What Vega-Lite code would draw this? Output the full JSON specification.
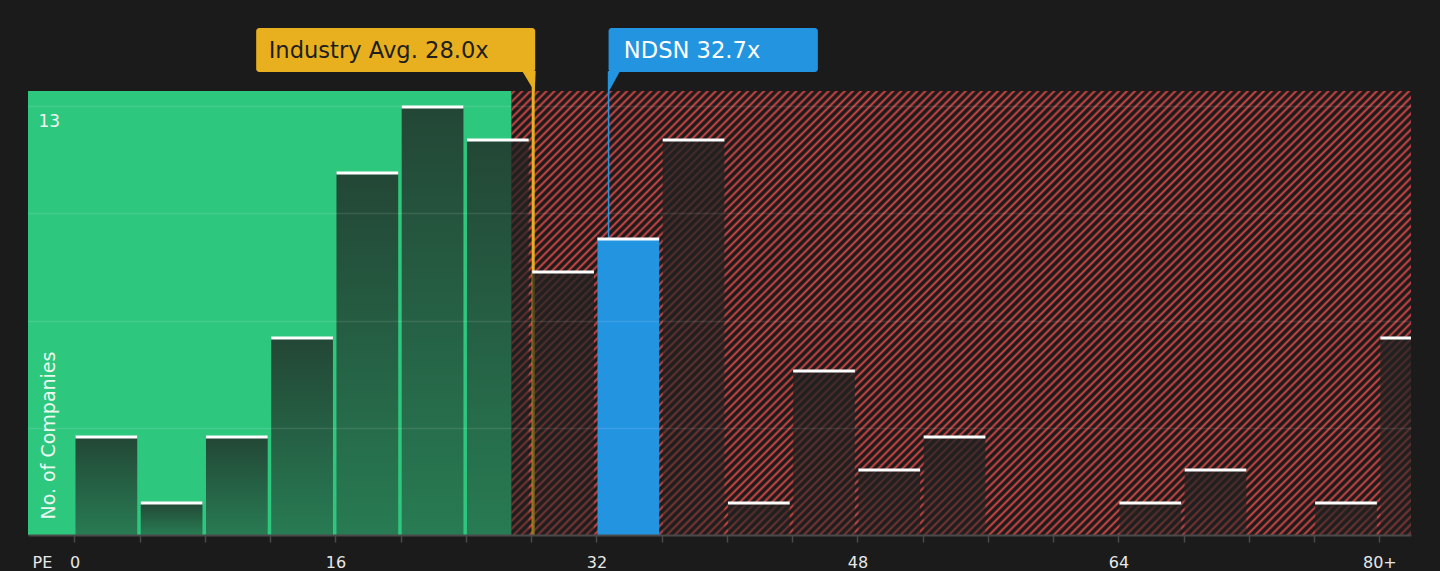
{
  "$schema": "https://vega.github.io/schema/vega-lite/v6.json",
  "description": "PE ratio distribution of peers, industry average and NDSN",
  "autosize": {"type": "none"},
  "padding": {"left": 28, "top": 28, "right": 29, "bottom": 36},
  "width": 1383,
  "height": 507,
  "background": "#1b1b1b",
  "config": {"view": {"stroke": null}, "font": "DejaVu Sans"},
  "datasets": {
    "bins": [
      {"lo": 0, "hi": 4, "n": 3},
      {"lo": 4, "hi": 8, "n": 1},
      {"lo": 8, "hi": 12, "n": 3},
      {"lo": 12, "hi": 16, "n": 6},
      {"lo": 16, "hi": 20, "n": 11},
      {"lo": 20, "hi": 24, "n": 13},
      {"lo": 24, "hi": 28, "n": 12},
      {"lo": 28, "hi": 32, "n": 8},
      {"lo": 32, "hi": 36, "n": 9},
      {"lo": 36, "hi": 40, "n": 12},
      {"lo": 40, "hi": 44, "n": 1},
      {"lo": 44, "hi": 48, "n": 5},
      {"lo": 48, "hi": 52, "n": 2},
      {"lo": 52, "hi": 56, "n": 3},
      {"lo": 56, "hi": 60, "n": 0},
      {"lo": 60, "hi": 64, "n": 0},
      {"lo": 64, "hi": 68, "n": 1},
      {"lo": 68, "hi": 72, "n": 2},
      {"lo": 72, "hi": 76, "n": 0},
      {"lo": 76, "hi": 80, "n": 1},
      {"lo": 80, "hi": 84, "n": 6}
    ],
    "zones": [
      {"zone": "fair", "start": -2.85, "end": 26.8},
      {"zone": "over", "start": 26.8, "end": 81.94}
    ],
    "refs": [
      {"kind": "industry", "label": "Industry Avg. 28.0x", "pe": 28.0},
      {"kind": "company", "label": "NDSN 32.7x", "pe": 32.7}
    ]
  },
  "layer": [
    {
      "data": {"name": "zones"},
      "mark": {"type": "rect", "opacity": 1},
      "encoding": {
        "x": {
          "field": "start",
          "type": "quantitative",
          "scale": {"domain": [-2.85, 81.94], "nice": false, "zero": false},
          "axis": {
            "title": "PE",
            "values": [0, 4, 8, 12, 16, 20, 24, 28, 32, 36, 40, 44, 48, 52, 56, 60, 64, 68, 72, 76, 80],
            "labelExpr": "datum.value % 16 === 0 ? (datum.value === 80 ? '80+' : datum.label) : ''",
            "grid": false,
            "domainColor": "#4a4a4a",
            "domainWidth": 2,
            "tickColor": "#4a4a4a",
            "tickWidth": 1.5,
            "tickSize": 7,
            "labelColor": "#e8e8e8",
            "labelFontSize": 16,
            "labelPadding": 25,
            "labelBaseline": "alphabetic",
            "labelFlush": false,
            "labelOverlap": false,
            "titleColor": "#e8e8e8",
            "titleFontSize": 16,
            "titleFontWeight": "normal",
            "titleAnchor": "start",
            "titleAlign": "left",
            "titleBaseline": "alphabetic",
            "titleX": 4,
            "titleY": 32,
            "zindex": 1
          }
        },
        "x2": {"field": "end"},
        "y": {
          "datum": 0,
          "type": "quantitative",
          "scale": {"domain": [0, 15.364], "nice": false, "zero": false},
          "axis": {
            "title": "No. of Companies",
            "values": [3.25, 6.5, 9.75, 13],
            "labelExpr": "datum.value === 13 ? '13' : ''",
            "domain": false,
            "ticks": false,
            "tickSize": 0,
            "grid": true,
            "gridColor": "#ffffff",
            "gridOpacity": 0.1,
            "gridWidth": 1.5,
            "labelColor": "#f2f2f2",
            "labelFontSize": 17,
            "labelAlign": "left",
            "labelBaseline": "alphabetic",
            "labelPadding": -10,
            "labelOffset": 20,
            "labelFlush": false,
            "labelOverlap": false,
            "labelBound": false,
            "titleColor": "#eaf8f0",
            "titleFontSize": 19,
            "titleFontWeight": "normal",
            "titleAngle": 270,
            "titleAlign": "left",
            "titleBaseline": "middle",
            "titleX": 20,
            "titleY": 491,
            "zindex": 1
          }
        },
        "y2": {"datum": 13.4545},
        "fill": {
          "condition": {"test": "datum.zone === 'fair'", "value": "#2ec77e"},
          "value": {
            "gradient": "linear",
            "x1": 0, "y1": 0, "x2": 1.201, "y2": 0.5931,
            "stops": [
{"offset":0.000,"color":"#1d1a1a"},{"offset":0.002,"color":"#d64848"},{"offset":0.004,"color":"#1d1a1a"},
{"offset":0.006,"color":"#1d1a1a"},{"offset":0.008,"color":"#d64848"},{"offset":0.010,"color":"#1d1a1a"},
{"offset":0.012,"color":"#1d1a1a"},{"offset":0.014,"color":"#d64848"},{"offset":0.016,"color":"#1d1a1a"},
{"offset":0.018,"color":"#1d1a1a"},{"offset":0.020,"color":"#d64848"},{"offset":0.022,"color":"#1d1a1a"},
{"offset":0.024,"color":"#1d1a1a"},{"offset":0.026,"color":"#d64848"},{"offset":0.028,"color":"#1d1a1a"},
{"offset":0.030,"color":"#1d1a1a"},{"offset":0.032,"color":"#d64848"},{"offset":0.034,"color":"#1d1a1a"},
{"offset":0.036,"color":"#1d1a1a"},{"offset":0.038,"color":"#d64848"},{"offset":0.040,"color":"#1d1a1a"},
{"offset":0.042,"color":"#1d1a1a"},{"offset":0.044,"color":"#d64848"},{"offset":0.046,"color":"#1d1a1a"},
{"offset":0.048,"color":"#1d1a1a"},{"offset":0.050,"color":"#d64848"},{"offset":0.052,"color":"#1d1a1a"},
{"offset":0.054,"color":"#1d1a1a"},{"offset":0.056,"color":"#d64848"},{"offset":0.058,"color":"#1d1a1a"},
{"offset":0.060,"color":"#1d1a1a"},{"offset":0.062,"color":"#d64848"},{"offset":0.064,"color":"#1d1a1a"},
{"offset":0.066,"color":"#1d1a1a"},{"offset":0.068,"color":"#d64848"},{"offset":0.070,"color":"#1d1a1a"},
{"offset":0.072,"color":"#1d1a1a"},{"offset":0.074,"color":"#d64848"},{"offset":0.076,"color":"#1d1a1a"},
{"offset":0.078,"color":"#1d1a1a"},{"offset":0.080,"color":"#d64848"},{"offset":0.082,"color":"#1d1a1a"},
{"offset":0.084,"color":"#1d1a1a"},{"offset":0.086,"color":"#d64848"},{"offset":0.088,"color":"#1d1a1a"},
{"offset":0.090,"color":"#1d1a1a"},{"offset":0.092,"color":"#d64848"},{"offset":0.094,"color":"#1d1a1a"},
{"offset":0.096,"color":"#1d1a1a"},{"offset":0.098,"color":"#d64848"},{"offset":0.100,"color":"#1d1a1a"},
{"offset":0.102,"color":"#1d1a1a"},{"offset":0.104,"color":"#d64848"},{"offset":0.106,"color":"#1d1a1a"},
{"offset":0.108,"color":"#1d1a1a"},{"offset":0.110,"color":"#d64848"},{"offset":0.112,"color":"#1d1a1a"},
{"offset":0.114,"color":"#1d1a1a"},{"offset":0.116,"color":"#d64848"},{"offset":0.118,"color":"#1d1a1a"},
{"offset":0.120,"color":"#1d1a1a"},{"offset":0.122,"color":"#d64848"},{"offset":0.124,"color":"#1d1a1a"},
{"offset":0.126,"color":"#1d1a1a"},{"offset":0.128,"color":"#d64848"},{"offset":0.130,"color":"#1d1a1a"},
{"offset":0.132,"color":"#1d1a1a"},{"offset":0.134,"color":"#d64848"},{"offset":0.136,"color":"#1d1a1a"},
{"offset":0.138,"color":"#1d1a1a"},{"offset":0.140,"color":"#d64848"},{"offset":0.142,"color":"#1d1a1a"},
{"offset":0.144,"color":"#1d1a1a"},{"offset":0.146,"color":"#d64848"},{"offset":0.148,"color":"#1d1a1a"},
{"offset":0.150,"color":"#1d1a1a"},{"offset":0.152,"color":"#d64848"},{"offset":0.154,"color":"#1d1a1a"},
{"offset":0.156,"color":"#1d1a1a"},{"offset":0.158,"color":"#d64848"},{"offset":0.160,"color":"#1d1a1a"},
{"offset":0.162,"color":"#1d1a1a"},{"offset":0.164,"color":"#d64848"},{"offset":0.166,"color":"#1d1a1a"},
{"offset":0.168,"color":"#1d1a1a"},{"offset":0.170,"color":"#d64848"},{"offset":0.172,"color":"#1d1a1a"},
{"offset":0.174,"color":"#1d1a1a"},{"offset":0.176,"color":"#d64848"},{"offset":0.178,"color":"#1d1a1a"},
{"offset":0.180,"color":"#1d1a1a"},{"offset":0.182,"color":"#d64848"},{"offset":0.184,"color":"#1d1a1a"},
{"offset":0.186,"color":"#1d1a1a"},{"offset":0.188,"color":"#d64848"},{"offset":0.190,"color":"#1d1a1a"},
{"offset":0.192,"color":"#1d1a1a"},{"offset":0.194,"color":"#d64848"},{"offset":0.196,"color":"#1d1a1a"},
{"offset":0.198,"color":"#1d1a1a"},{"offset":0.200,"color":"#d64848"},{"offset":0.202,"color":"#1d1a1a"},
{"offset":0.204,"color":"#1d1a1a"},{"offset":0.206,"color":"#d64848"},{"offset":0.208,"color":"#1d1a1a"},
{"offset":0.210,"color":"#1d1a1a"},{"offset":0.212,"color":"#d64848"},{"offset":0.214,"color":"#1d1a1a"},
{"offset":0.216,"color":"#1d1a1a"},{"offset":0.218,"color":"#d64848"},{"offset":0.220,"color":"#1d1a1a"},
{"offset":0.222,"color":"#1d1a1a"},{"offset":0.224,"color":"#d64848"},{"offset":0.226,"color":"#1d1a1a"},
{"offset":0.228,"color":"#1d1a1a"},{"offset":0.230,"color":"#d64848"},{"offset":0.232,"color":"#1d1a1a"},
{"offset":0.234,"color":"#1d1a1a"},{"offset":0.236,"color":"#d64848"},{"offset":0.238,"color":"#1d1a1a"},
{"offset":0.240,"color":"#1d1a1a"},{"offset":0.242,"color":"#d64848"},{"offset":0.244,"color":"#1d1a1a"},
{"offset":0.246,"color":"#1d1a1a"},{"offset":0.248,"color":"#d64848"},{"offset":0.250,"color":"#1d1a1a"},
{"offset":0.252,"color":"#1d1a1a"},{"offset":0.254,"color":"#d64848"},{"offset":0.256,"color":"#1d1a1a"},
{"offset":0.258,"color":"#1d1a1a"},{"offset":0.260,"color":"#d64848"},{"offset":0.262,"color":"#1d1a1a"},
{"offset":0.264,"color":"#1d1a1a"},{"offset":0.266,"color":"#d64848"},{"offset":0.268,"color":"#1d1a1a"},
{"offset":0.270,"color":"#1d1a1a"},{"offset":0.272,"color":"#d64848"},{"offset":0.274,"color":"#1d1a1a"},
{"offset":0.276,"color":"#1d1a1a"},{"offset":0.278,"color":"#d64848"},{"offset":0.280,"color":"#1d1a1a"},
{"offset":0.282,"color":"#1d1a1a"},{"offset":0.284,"color":"#d64848"},{"offset":0.286,"color":"#1d1a1a"},
{"offset":0.288,"color":"#1d1a1a"},{"offset":0.290,"color":"#d64848"},{"offset":0.292,"color":"#1d1a1a"},
{"offset":0.294,"color":"#1d1a1a"},{"offset":0.296,"color":"#d64848"},{"offset":0.298,"color":"#1d1a1a"},
{"offset":0.300,"color":"#1d1a1a"},{"offset":0.302,"color":"#d64848"},{"offset":0.304,"color":"#1d1a1a"},
{"offset":0.306,"color":"#1d1a1a"},{"offset":0.308,"color":"#d64848"},{"offset":0.310,"color":"#1d1a1a"},
{"offset":0.312,"color":"#1d1a1a"},{"offset":0.314,"color":"#d64848"},{"offset":0.316,"color":"#1d1a1a"},
{"offset":0.318,"color":"#1d1a1a"},{"offset":0.320,"color":"#d64848"},{"offset":0.322,"color":"#1d1a1a"},
{"offset":0.324,"color":"#1d1a1a"},{"offset":0.326,"color":"#d64848"},{"offset":0.328,"color":"#1d1a1a"},
{"offset":0.330,"color":"#1d1a1a"},{"offset":0.332,"color":"#d64848"},{"offset":0.334,"color":"#1d1a1a"},
{"offset":0.336,"color":"#1d1a1a"},{"offset":0.338,"color":"#d64848"},{"offset":0.340,"color":"#1d1a1a"},
{"offset":0.342,"color":"#1d1a1a"},{"offset":0.344,"color":"#d64848"},{"offset":0.346,"color":"#1d1a1a"},
{"offset":0.348,"color":"#1d1a1a"},{"offset":0.350,"color":"#d64848"},{"offset":0.352,"color":"#1d1a1a"},
{"offset":0.354,"color":"#1d1a1a"},{"offset":0.356,"color":"#d64848"},{"offset":0.358,"color":"#1d1a1a"},
{"offset":0.360,"color":"#1d1a1a"},{"offset":0.362,"color":"#d64848"},{"offset":0.364,"color":"#1d1a1a"},
{"offset":0.366,"color":"#1d1a1a"},{"offset":0.368,"color":"#d64848"},{"offset":0.370,"color":"#1d1a1a"},
{"offset":0.372,"color":"#1d1a1a"},{"offset":0.374,"color":"#d64848"},{"offset":0.376,"color":"#1d1a1a"},
{"offset":0.378,"color":"#1d1a1a"},{"offset":0.380,"color":"#d64848"},{"offset":0.382,"color":"#1d1a1a"},
{"offset":0.384,"color":"#1d1a1a"},{"offset":0.386,"color":"#d64848"},{"offset":0.388,"color":"#1d1a1a"},
{"offset":0.390,"color":"#1d1a1a"},{"offset":0.392,"color":"#d64848"},{"offset":0.394,"color":"#1d1a1a"},
{"offset":0.396,"color":"#1d1a1a"},{"offset":0.398,"color":"#d64848"},{"offset":0.400,"color":"#1d1a1a"},
{"offset":0.402,"color":"#1d1a1a"},{"offset":0.404,"color":"#d64848"},{"offset":0.406,"color":"#1d1a1a"},
{"offset":0.408,"color":"#1d1a1a"},{"offset":0.410,"color":"#d64848"},{"offset":0.412,"color":"#1d1a1a"},
{"offset":0.414,"color":"#1d1a1a"},{"offset":0.416,"color":"#d64848"},{"offset":0.418,"color":"#1d1a1a"},
{"offset":0.420,"color":"#1d1a1a"},{"offset":0.422,"color":"#d64848"},{"offset":0.424,"color":"#1d1a1a"},
{"offset":0.426,"color":"#1d1a1a"},{"offset":0.428,"color":"#d64848"},{"offset":0.430,"color":"#1d1a1a"},
{"offset":0.432,"color":"#1d1a1a"},{"offset":0.434,"color":"#d64848"},{"offset":0.436,"color":"#1d1a1a"},
{"offset":0.438,"color":"#1d1a1a"},{"offset":0.440,"color":"#d64848"},{"offset":0.442,"color":"#1d1a1a"},
{"offset":0.444,"color":"#1d1a1a"},{"offset":0.446,"color":"#d64848"},{"offset":0.448,"color":"#1d1a1a"},
{"offset":0.450,"color":"#1d1a1a"},{"offset":0.452,"color":"#d64848"},{"offset":0.454,"color":"#1d1a1a"},
{"offset":0.456,"color":"#1d1a1a"},{"offset":0.458,"color":"#d64848"},{"offset":0.460,"color":"#1d1a1a"},
{"offset":0.462,"color":"#1d1a1a"},{"offset":0.464,"color":"#d64848"},{"offset":0.466,"color":"#1d1a1a"},
{"offset":0.468,"color":"#1d1a1a"},{"offset":0.470,"color":"#d64848"},{"offset":0.472,"color":"#1d1a1a"},
{"offset":0.474,"color":"#1d1a1a"},{"offset":0.476,"color":"#d64848"},{"offset":0.478,"color":"#1d1a1a"},
{"offset":0.480,"color":"#1d1a1a"},{"offset":0.482,"color":"#d64848"},{"offset":0.484,"color":"#1d1a1a"},
{"offset":0.486,"color":"#1d1a1a"},{"offset":0.488,"color":"#d64848"},{"offset":0.490,"color":"#1d1a1a"},
{"offset":0.492,"color":"#1d1a1a"},{"offset":0.494,"color":"#d64848"},{"offset":0.496,"color":"#1d1a1a"},
{"offset":0.498,"color":"#1d1a1a"},{"offset":0.500,"color":"#d64848"},{"offset":0.502,"color":"#1d1a1a"},
{"offset":0.504,"color":"#1d1a1a"},{"offset":0.506,"color":"#d64848"},{"offset":0.508,"color":"#1d1a1a"},
{"offset":0.510,"color":"#1d1a1a"},{"offset":0.512,"color":"#d64848"},{"offset":0.514,"color":"#1d1a1a"},
{"offset":0.516,"color":"#1d1a1a"},{"offset":0.518,"color":"#d64848"},{"offset":0.520,"color":"#1d1a1a"},
{"offset":0.522,"color":"#1d1a1a"},{"offset":0.524,"color":"#d64848"},{"offset":0.526,"color":"#1d1a1a"},
{"offset":0.528,"color":"#1d1a1a"},{"offset":0.530,"color":"#d64848"},{"offset":0.532,"color":"#1d1a1a"},
{"offset":0.534,"color":"#1d1a1a"},{"offset":0.536,"color":"#d64848"},{"offset":0.538,"color":"#1d1a1a"},
{"offset":0.540,"color":"#1d1a1a"},{"offset":0.542,"color":"#d64848"},{"offset":0.544,"color":"#1d1a1a"},
{"offset":0.546,"color":"#1d1a1a"},{"offset":0.548,"color":"#d64848"},{"offset":0.550,"color":"#1d1a1a"},
{"offset":0.552,"color":"#1d1a1a"},{"offset":0.554,"color":"#d64848"},{"offset":0.556,"color":"#1d1a1a"},
{"offset":0.558,"color":"#1d1a1a"},{"offset":0.560,"color":"#d64848"},{"offset":0.562,"color":"#1d1a1a"},
{"offset":0.564,"color":"#1d1a1a"},{"offset":0.566,"color":"#d64848"},{"offset":0.568,"color":"#1d1a1a"},
{"offset":0.570,"color":"#1d1a1a"},{"offset":0.572,"color":"#d64848"},{"offset":0.574,"color":"#1d1a1a"},
{"offset":0.576,"color":"#1d1a1a"},{"offset":0.578,"color":"#d64848"},{"offset":0.580,"color":"#1d1a1a"},
{"offset":0.582,"color":"#1d1a1a"},{"offset":0.584,"color":"#d64848"},{"offset":0.586,"color":"#1d1a1a"},
{"offset":0.588,"color":"#1d1a1a"},{"offset":0.590,"color":"#d64848"},{"offset":0.592,"color":"#1d1a1a"},
{"offset":0.594,"color":"#1d1a1a"},{"offset":0.596,"color":"#d64848"},{"offset":0.598,"color":"#1d1a1a"},
{"offset":0.600,"color":"#1d1a1a"},{"offset":0.602,"color":"#d64848"},{"offset":0.604,"color":"#1d1a1a"},
{"offset":0.606,"color":"#1d1a1a"},{"offset":0.608,"color":"#d64848"},{"offset":0.610,"color":"#1d1a1a"},
{"offset":0.612,"color":"#1d1a1a"},{"offset":0.614,"color":"#d64848"},{"offset":0.616,"color":"#1d1a1a"},
{"offset":0.618,"color":"#1d1a1a"},{"offset":0.620,"color":"#d64848"},{"offset":0.622,"color":"#1d1a1a"},
{"offset":0.624,"color":"#1d1a1a"},{"offset":0.626,"color":"#d64848"},{"offset":0.628,"color":"#1d1a1a"},
{"offset":0.630,"color":"#1d1a1a"},{"offset":0.632,"color":"#d64848"},{"offset":0.634,"color":"#1d1a1a"},
{"offset":0.636,"color":"#1d1a1a"},{"offset":0.638,"color":"#d64848"},{"offset":0.640,"color":"#1d1a1a"},
{"offset":0.642,"color":"#1d1a1a"},{"offset":0.644,"color":"#d64848"},{"offset":0.646,"color":"#1d1a1a"},
{"offset":0.648,"color":"#1d1a1a"},{"offset":0.650,"color":"#d64848"},{"offset":0.652,"color":"#1d1a1a"},
{"offset":0.654,"color":"#1d1a1a"},{"offset":0.656,"color":"#d64848"},{"offset":0.658,"color":"#1d1a1a"},
{"offset":0.660,"color":"#1d1a1a"},{"offset":0.662,"color":"#d64848"},{"offset":0.664,"color":"#1d1a1a"},
{"offset":0.666,"color":"#1d1a1a"},{"offset":0.668,"color":"#d64848"},{"offset":0.670,"color":"#1d1a1a"},
{"offset":0.672,"color":"#1d1a1a"},{"offset":0.674,"color":"#d64848"},{"offset":0.676,"color":"#1d1a1a"},
{"offset":0.678,"color":"#1d1a1a"},{"offset":0.680,"color":"#d64848"},{"offset":0.682,"color":"#1d1a1a"},
{"offset":0.684,"color":"#1d1a1a"},{"offset":0.686,"color":"#d64848"},{"offset":0.688,"color":"#1d1a1a"},
{"offset":0.690,"color":"#1d1a1a"},{"offset":0.692,"color":"#d64848"},{"offset":0.694,"color":"#1d1a1a"},
{"offset":0.696,"color":"#1d1a1a"},{"offset":0.698,"color":"#d64848"},{"offset":0.700,"color":"#1d1a1a"},
{"offset":0.702,"color":"#1d1a1a"},{"offset":0.704,"color":"#d64848"},{"offset":0.706,"color":"#1d1a1a"},
{"offset":0.708,"color":"#1d1a1a"},{"offset":0.710,"color":"#d64848"},{"offset":0.712,"color":"#1d1a1a"},
{"offset":0.714,"color":"#1d1a1a"},{"offset":0.716,"color":"#d64848"},{"offset":0.718,"color":"#1d1a1a"},
{"offset":0.720,"color":"#1d1a1a"},{"offset":0.722,"color":"#d64848"},{"offset":0.724,"color":"#1d1a1a"},
{"offset":0.726,"color":"#1d1a1a"},{"offset":0.728,"color":"#d64848"},{"offset":0.730,"color":"#1d1a1a"},
{"offset":0.732,"color":"#1d1a1a"},{"offset":0.734,"color":"#d64848"},{"offset":0.736,"color":"#1d1a1a"},
{"offset":0.738,"color":"#1d1a1a"},{"offset":0.740,"color":"#d64848"},{"offset":0.742,"color":"#1d1a1a"},
{"offset":0.744,"color":"#1d1a1a"},{"offset":0.746,"color":"#d64848"},{"offset":0.748,"color":"#1d1a1a"},
{"offset":0.750,"color":"#1d1a1a"},{"offset":0.752,"color":"#d64848"},{"offset":0.754,"color":"#1d1a1a"},
{"offset":0.756,"color":"#1d1a1a"},{"offset":0.758,"color":"#d64848"},{"offset":0.760,"color":"#1d1a1a"},
{"offset":0.762,"color":"#1d1a1a"},{"offset":0.764,"color":"#d64848"},{"offset":0.766,"color":"#1d1a1a"},
{"offset":0.768,"color":"#1d1a1a"},{"offset":0.770,"color":"#d64848"},{"offset":0.772,"color":"#1d1a1a"},
{"offset":0.774,"color":"#1d1a1a"},{"offset":0.776,"color":"#d64848"},{"offset":0.778,"color":"#1d1a1a"},
{"offset":0.780,"color":"#1d1a1a"},{"offset":0.782,"color":"#d64848"},{"offset":0.784,"color":"#1d1a1a"},
{"offset":0.786,"color":"#1d1a1a"},{"offset":0.788,"color":"#d64848"},{"offset":0.790,"color":"#1d1a1a"},
{"offset":0.792,"color":"#1d1a1a"},{"offset":0.794,"color":"#d64848"},{"offset":0.796,"color":"#1d1a1a"},
{"offset":0.798,"color":"#1d1a1a"},{"offset":0.800,"color":"#d64848"},{"offset":0.802,"color":"#1d1a1a"},
{"offset":0.804,"color":"#1d1a1a"},{"offset":0.806,"color":"#d64848"},{"offset":0.808,"color":"#1d1a1a"},
{"offset":0.810,"color":"#1d1a1a"},{"offset":0.812,"color":"#d64848"},{"offset":0.814,"color":"#1d1a1a"},
{"offset":0.816,"color":"#1d1a1a"},{"offset":0.818,"color":"#d64848"},{"offset":0.820,"color":"#1d1a1a"},
{"offset":0.822,"color":"#1d1a1a"},{"offset":0.824,"color":"#d64848"},{"offset":0.826,"color":"#1d1a1a"},
{"offset":0.828,"color":"#1d1a1a"},{"offset":0.830,"color":"#d64848"},{"offset":0.832,"color":"#1d1a1a"},
{"offset":0.834,"color":"#1d1a1a"},{"offset":0.836,"color":"#d64848"},{"offset":0.838,"color":"#1d1a1a"},
{"offset":0.840,"color":"#1d1a1a"},{"offset":0.842,"color":"#d64848"},{"offset":0.844,"color":"#1d1a1a"},
{"offset":0.846,"color":"#1d1a1a"},{"offset":0.848,"color":"#d64848"},{"offset":0.850,"color":"#1d1a1a"},
{"offset":0.852,"color":"#1d1a1a"},{"offset":0.854,"color":"#d64848"},{"offset":0.856,"color":"#1d1a1a"},
{"offset":0.858,"color":"#1d1a1a"},{"offset":0.860,"color":"#d64848"},{"offset":0.862,"color":"#1d1a1a"},
{"offset":0.864,"color":"#1d1a1a"},{"offset":0.866,"color":"#d64848"},{"offset":0.868,"color":"#1d1a1a"},
{"offset":0.870,"color":"#1d1a1a"},{"offset":0.872,"color":"#d64848"},{"offset":0.874,"color":"#1d1a1a"},
{"offset":0.876,"color":"#1d1a1a"},{"offset":0.878,"color":"#d64848"},{"offset":0.880,"color":"#1d1a1a"},
{"offset":0.882,"color":"#1d1a1a"},{"offset":0.884,"color":"#d64848"},{"offset":0.886,"color":"#1d1a1a"},
{"offset":0.888,"color":"#1d1a1a"},{"offset":0.890,"color":"#d64848"},{"offset":0.892,"color":"#1d1a1a"},
{"offset":0.894,"color":"#1d1a1a"},{"offset":0.896,"color":"#d64848"},{"offset":0.898,"color":"#1d1a1a"},
{"offset":0.900,"color":"#1d1a1a"},{"offset":0.902,"color":"#d64848"},{"offset":0.904,"color":"#1d1a1a"},
{"offset":0.906,"color":"#1d1a1a"},{"offset":0.908,"color":"#d64848"},{"offset":0.910,"color":"#1d1a1a"},
{"offset":0.912,"color":"#1d1a1a"},{"offset":0.914,"color":"#d64848"},{"offset":0.916,"color":"#1d1a1a"},
{"offset":0.918,"color":"#1d1a1a"},{"offset":0.920,"color":"#d64848"},{"offset":0.922,"color":"#1d1a1a"},
{"offset":0.924,"color":"#1d1a1a"},{"offset":0.926,"color":"#d64848"},{"offset":0.928,"color":"#1d1a1a"},
{"offset":0.930,"color":"#1d1a1a"},{"offset":0.932,"color":"#d64848"},{"offset":0.934,"color":"#1d1a1a"},
{"offset":0.936,"color":"#1d1a1a"},{"offset":0.938,"color":"#d64848"},{"offset":0.940,"color":"#1d1a1a"},
{"offset":0.942,"color":"#1d1a1a"},{"offset":0.944,"color":"#d64848"},{"offset":0.946,"color":"#1d1a1a"},
{"offset":0.948,"color":"#1d1a1a"},{"offset":0.950,"color":"#d64848"},{"offset":0.952,"color":"#1d1a1a"},
{"offset":0.954,"color":"#1d1a1a"},{"offset":0.956,"color":"#d64848"},{"offset":0.958,"color":"#1d1a1a"},
{"offset":0.960,"color":"#1d1a1a"},{"offset":0.962,"color":"#d64848"},{"offset":0.964,"color":"#1d1a1a"},
{"offset":0.966,"color":"#1d1a1a"},{"offset":0.968,"color":"#d64848"},{"offset":0.970,"color":"#1d1a1a"},
{"offset":0.972,"color":"#1d1a1a"},{"offset":0.974,"color":"#d64848"},{"offset":0.976,"color":"#1d1a1a"},
{"offset":0.978,"color":"#1d1a1a"},{"offset":0.980,"color":"#d64848"},{"offset":0.982,"color":"#1d1a1a"},
{"offset":0.984,"color":"#1d1a1a"},{"offset":0.986,"color":"#d64848"},{"offset":0.988,"color":"#1d1a1a"},
{"offset":0.990,"color":"#1d1a1a"},{"offset":0.992,"color":"#d64848"},{"offset":0.994,"color":"#1d1a1a"},
{"offset":0.996,"color":"#1d1a1a"},{"offset":0.998,"color":"#d64848"},{"offset":1.000,"color":"#1d1a1a"}
            ]
          }
        }
      }
    },
    {
      "data": {"name": "refs"},
      "transform": [{"filter": "datum.kind === 'industry'"}],
      "mark": {"type": "rule", "color": "#e8b01e", "strokeWidth": 3, "xOffset": 2, "opacity": 1},
      "encoding": {
        "x": {"field": "pe", "type": "quantitative"},
        "y": {"datum": 0, "type": "quantitative"},
        "y2": {"datum": 14.05}
      }
    },
    {
      "data": {"name": "refs"},
      "transform": [{"filter": "datum.kind === 'company'"}],
      "mark": {"type": "rule", "color": "#2394e0", "strokeWidth": 1.5, "xOffset": 0.7, "opacity": 1},
      "encoding": {
        "x": {"field": "pe", "type": "quantitative"},
        "y": {"datum": 0, "type": "quantitative"},
        "y2": {"datum": 14.05}
      }
    },
    {
      "data": {"name": "bins"},
      "mark": {"type": "bar", "xOffset": 1, "x2Offset": -2.5, "clip": true, "opacity": 1},
      "encoding": {
        "x": {"field": "lo", "type": "quantitative"},
        "x2": {"field": "hi"},
        "y": {"field": "n", "type": "quantitative"},
        "y2": {"datum": 0},
        "fill": {
          "condition": {"test": "datum.lo === 32", "value": "#2394e0"},
          "value": {
            "gradient": "linear",
            "x1": 0, "y1": 0, "x2": 0, "y2": 1,
            "stops": [
              {"offset": 0, "color": "rgba(32,34,33,0.78)"},
              {"offset": 1, "color": "rgba(32,34,33,0.46)"}
            ]
          }
        }
      }
    },
    {
      "data": {"name": "bins"},
      "transform": [{"filter": "datum.n > 0"}],
      "mark": {"type": "rule", "color": "#ffffff", "strokeWidth": 3, "xOffset": 1, "x2Offset": -2.5, "yOffset": 1, "clip": true, "opacity": 1},
      "encoding": {
        "x": {"field": "lo", "type": "quantitative"},
        "x2": {"field": "hi"},
        "y": {"field": "n", "type": "quantitative"}
      }
    },
    {
      "data": {"name": "refs"},
      "transform": [{"filter": "datum.kind === 'industry'"}],
      "mark": {"type": "rect", "color": "#e8b01e", "cornerRadius": 3, "xOffset": -275, "x2Offset": 4, "opacity": 1},
      "encoding": {
        "x": {"field": "pe", "type": "quantitative"},
        "x2": {"field": "pe"},
        "y": {"datum": 15.364, "type": "quantitative"},
        "y2": {"datum": 14.03}
      }
    },
    {
      "data": {"name": "refs"},
      "transform": [{"filter": "datum.kind === 'company'"}],
      "mark": {"type": "rect", "color": "#2394e0", "cornerRadius": 3, "xOffset": 0.7, "x2Offset": 210, "opacity": 1},
      "encoding": {
        "x": {"field": "pe", "type": "quantitative"},
        "x2": {"field": "pe"},
        "y": {"datum": 15.364, "type": "quantitative"},
        "y2": {"datum": 14.03}
      }
    },
    {
      "data": {"name": "refs"},
      "transform": [{"filter": "datum.kind === 'industry'"}],
      "mark": {"type": "point", "shape": "M-0.85,-0.85L0.19,-0.85L0.12,0.77Z", "size": 676, "filled": true, "color": "#e8b01e", "strokeWidth": 0, "xOffset": 2, "opacity": 1},
      "encoding": {
        "x": {"field": "pe", "type": "quantitative"},
        "y": {"datum": 13.727, "type": "quantitative"}
      }
    },
    {
      "data": {"name": "refs"},
      "transform": [{"filter": "datum.kind === 'company'"}],
      "mark": {"type": "point", "shape": "M0,-0.85L0.89,-0.85L0,0.77Z", "size": 676, "filled": true, "color": "#2394e0", "strokeWidth": 0, "xOffset": 0.7, "opacity": 1},
      "encoding": {
        "x": {"field": "pe", "type": "quantitative"},
        "y": {"datum": 13.727, "type": "quantitative"}
      }
    },
    {
      "data": {"name": "refs"},
      "transform": [{"filter": "datum.kind === 'industry'"}],
      "mark": {"type": "text", "align": "left", "baseline": "alphabetic", "fontSize": 22.6, "font": "DejaVu Sans", "color": "#1e1e1e", "xOffset": -262.5, "opacity": 1},
      "encoding": {
        "x": {"field": "pe", "type": "quantitative"},
        "y": {"datum": 14.455, "type": "quantitative"},
        "text": {"field": "label"}
      }
    },
    {
      "data": {"name": "refs"},
      "transform": [{"filter": "datum.kind === 'company'"}],
      "mark": {"type": "text", "align": "left", "baseline": "alphabetic", "fontSize": 22.6, "font": "DejaVu Sans", "color": "#ffffff", "xOffset": 16, "opacity": 1},
      "encoding": {
        "x": {"field": "pe", "type": "quantitative"},
        "y": {"datum": 14.455, "type": "quantitative"},
        "text": {"field": "label"}
      }
    }
  ]
}
